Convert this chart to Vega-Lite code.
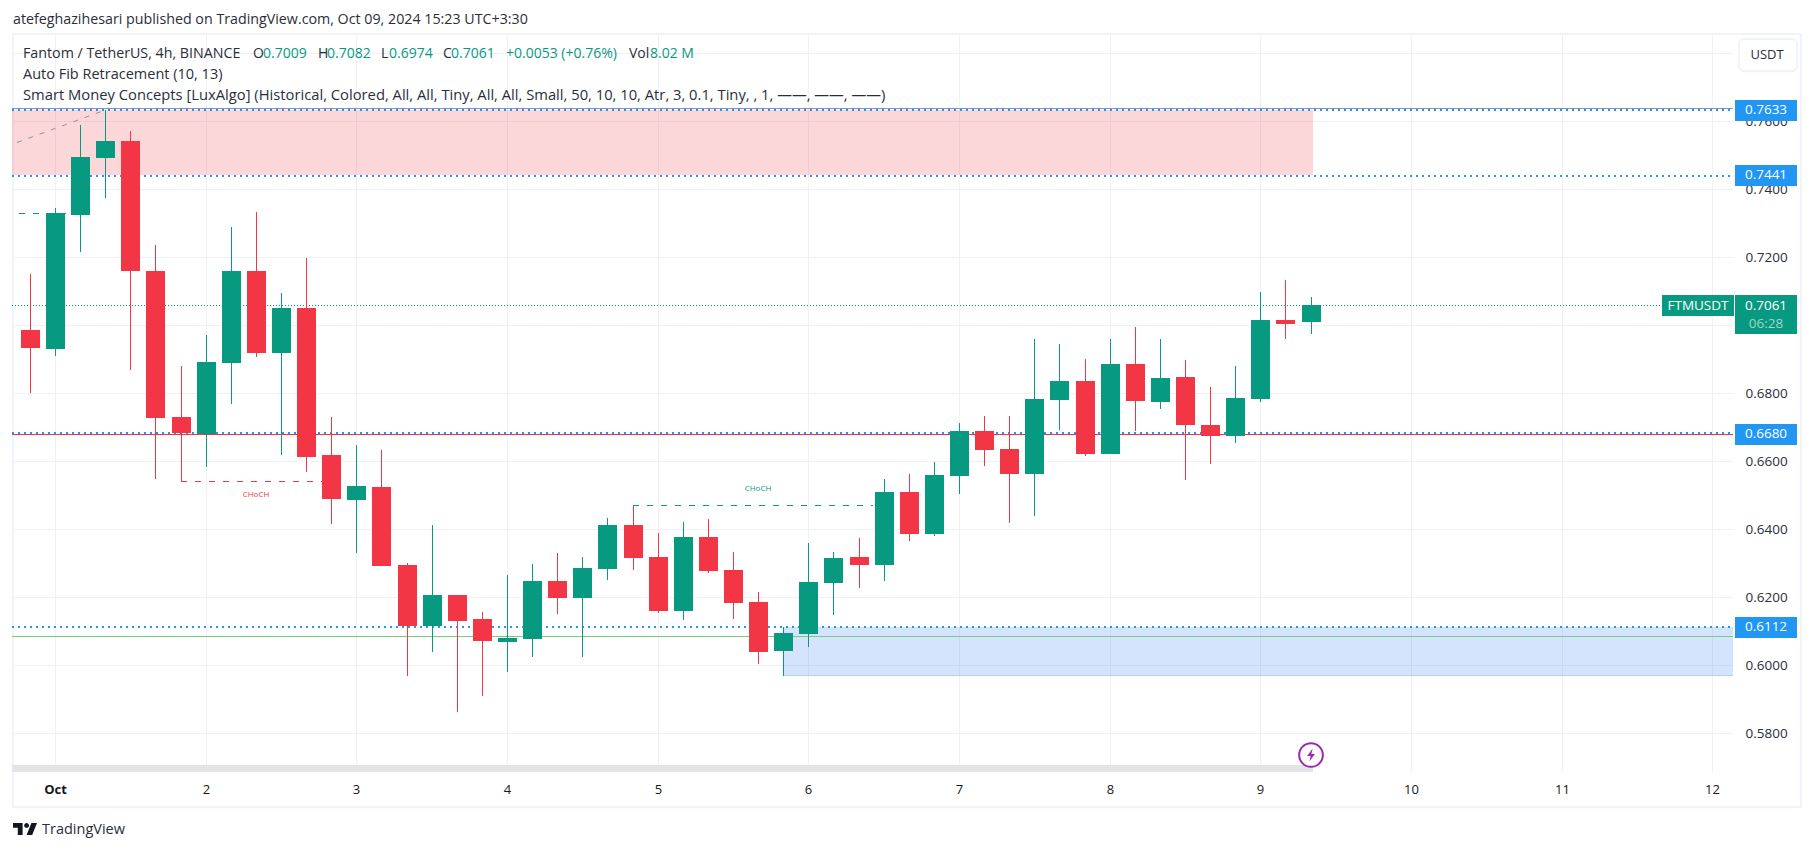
{
"$schema":"https://vega.github.io/schema/vega-lite/v6.json",
"width":1721,"height":738,
"autosize":{"type":"none"},
"padding":{"left":12,"top":34,"right":81,"bottom":79},
"background":"#ffffff",
"config":{"view":{"stroke":null},"font":"Open Sans","text":{"font":"Open Sans"}},
"resolve":{"scale":{"color":"independent"}},
"datasets":{
"candles":[
{"t":"2024-09-30T20:00Z","open":0.6986,"high":0.7151,"low":0.6801,"close":0.6934,"dir":"down"},
{"t":"2024-10-01T00:00Z","open":0.6930,"high":0.7344,"low":0.6910,"close":0.7329,"dir":"up"},
{"t":"2024-10-01T04:00Z","open":0.7324,"high":0.7589,"low":0.7216,"close":0.7495,"dir":"up"},
{"t":"2024-10-01T08:00Z","open":0.7492,"high":0.7633,"low":0.7375,"close":0.7542,"dir":"up"},
{"t":"2024-10-01T12:00Z","open":0.7542,"high":0.7571,"low":0.6869,"close":0.7160,"dir":"down"},
{"t":"2024-10-01T16:00Z","open":0.7160,"high":0.7236,"low":0.6548,"close":0.6727,"dir":"down"},
{"t":"2024-10-01T20:00Z","open":0.6730,"high":0.6880,"low":0.6541,"close":0.6683,"dir":"down"},
{"t":"2024-10-02T00:00Z","open":0.6680,"high":0.6971,"low":0.6583,"close":0.6892,"dir":"up"},
{"t":"2024-10-02T04:00Z","open":0.6889,"high":0.7289,"low":0.6769,"close":0.7160,"dir":"up"},
{"t":"2024-10-02T08:00Z","open":0.7160,"high":0.7333,"low":0.6907,"close":0.6919,"dir":"down"},
{"t":"2024-10-02T12:00Z","open":0.6919,"high":0.7095,"low":0.6619,"close":0.7051,"dir":"up"},
{"t":"2024-10-02T16:00Z","open":0.7051,"high":0.7198,"low":0.6569,"close":0.6613,"dir":"down"},
{"t":"2024-10-02T20:00Z","open":0.6619,"high":0.6730,"low":0.6416,"close":0.6489,"dir":"down"},
{"t":"2024-10-03T00:00Z","open":0.6486,"high":0.6648,"low":0.6330,"close":0.6527,"dir":"up"},
{"t":"2024-10-03T04:00Z","open":0.6524,"high":0.6633,"low":0.6292,"close":0.6292,"dir":"down"},
{"t":"2024-10-03T08:00Z","open":0.6295,"high":0.6301,"low":0.5969,"close":0.6116,"dir":"down"},
{"t":"2024-10-03T12:00Z","open":0.6116,"high":0.6413,"low":0.6039,"close":0.6207,"dir":"up"},
{"t":"2024-10-03T16:00Z","open":0.6207,"high":0.6207,"low":0.5863,"close":0.6130,"dir":"down"},
{"t":"2024-10-03T20:00Z","open":0.6136,"high":0.6157,"low":0.5910,"close":0.6071,"dir":"down"},
{"t":"2024-10-04T00:00Z","open":0.6069,"high":0.6266,"low":0.5980,"close":0.6080,"dir":"up"},
{"t":"2024-10-04T04:00Z","open":0.6077,"high":0.6298,"low":0.6024,"close":0.6248,"dir":"up"},
{"t":"2024-10-04T08:00Z","open":0.6248,"high":0.6330,"low":0.6151,"close":0.6198,"dir":"down"},
{"t":"2024-10-04T12:00Z","open":0.6198,"high":0.6319,"low":0.6024,"close":0.6286,"dir":"up"},
{"t":"2024-10-04T16:00Z","open":0.6283,"high":0.6433,"low":0.6251,"close":0.6413,"dir":"up"},
{"t":"2024-10-04T20:00Z","open":0.6413,"high":0.6471,"low":0.6280,"close":0.6316,"dir":"down"},
{"t":"2024-10-05T00:00Z","open":0.6319,"high":0.6389,"low":0.6154,"close":0.6160,"dir":"down"},
{"t":"2024-10-05T04:00Z","open":0.6160,"high":0.6421,"low":0.6133,"close":0.6377,"dir":"up"},
{"t":"2024-10-05T08:00Z","open":0.6377,"high":0.6430,"low":0.6271,"close":0.6277,"dir":"down"},
{"t":"2024-10-05T12:00Z","open":0.6280,"high":0.6333,"low":0.6136,"close":0.6183,"dir":"down"},
{"t":"2024-10-05T16:00Z","open":0.6186,"high":0.6216,"low":0.6004,"close":0.6039,"dir":"down"},
{"t":"2024-10-05T20:00Z","open":0.6042,"high":0.6113,"low":0.5969,"close":0.6095,"dir":"up"},
{"t":"2024-10-06T00:00Z","open":0.6092,"high":0.6360,"low":0.6054,"close":0.6245,"dir":"up"},
{"t":"2024-10-06T04:00Z","open":0.6242,"high":0.6333,"low":0.6148,"close":0.6316,"dir":"up"},
{"t":"2024-10-06T08:00Z","open":0.6319,"high":0.6374,"low":0.6227,"close":0.6295,"dir":"down"},
{"t":"2024-10-06T12:00Z","open":0.6295,"high":0.6548,"low":0.6248,"close":0.6510,"dir":"up"},
{"t":"2024-10-06T16:00Z","open":0.6510,"high":0.6563,"low":0.6366,"close":0.6386,"dir":"down"},
{"t":"2024-10-06T20:00Z","open":0.6386,"high":0.6598,"low":0.6380,"close":0.6560,"dir":"up"},
{"t":"2024-10-07T00:00Z","open":0.6557,"high":0.6713,"low":0.6504,"close":0.6689,"dir":"up"},
{"t":"2024-10-07T04:00Z","open":0.6689,"high":0.6733,"low":0.6586,"close":0.6633,"dir":"down"},
{"t":"2024-10-07T08:00Z","open":0.6636,"high":0.6733,"low":0.6419,"close":0.6563,"dir":"down"},
{"t":"2024-10-07T12:00Z","open":0.6563,"high":0.6960,"low":0.6439,"close":0.6783,"dir":"up"},
{"t":"2024-10-07T16:00Z","open":0.6780,"high":0.6945,"low":0.6692,"close":0.6836,"dir":"up"},
{"t":"2024-10-07T20:00Z","open":0.6836,"high":0.6901,"low":0.6616,"close":0.6621,"dir":"down"},
{"t":"2024-10-08T00:00Z","open":0.6621,"high":0.6960,"low":0.6621,"close":0.6886,"dir":"up"},
{"t":"2024-10-08T04:00Z","open":0.6886,"high":0.6995,"low":0.6689,"close":0.6777,"dir":"down"},
{"t":"2024-10-08T08:00Z","open":0.6774,"high":0.6960,"low":0.6754,"close":0.6845,"dir":"up"},
{"t":"2024-10-08T12:00Z","open":0.6848,"high":0.6898,"low":0.6545,"close":0.6707,"dir":"down"},
{"t":"2024-10-08T16:00Z","open":0.6707,"high":0.6819,"low":0.6592,"close":0.6674,"dir":"down"},
{"t":"2024-10-08T20:00Z","open":0.6674,"high":0.6880,"low":0.6654,"close":0.6786,"dir":"up"},
{"t":"2024-10-09T00:00Z","open":0.6783,"high":0.7098,"low":0.6774,"close":0.7016,"dir":"up"},
{"t":"2024-10-09T04:00Z","open":0.7016,"high":0.7133,"low":0.6960,"close":0.7004,"dir":"down"},
{"t":"2024-10-09T08:00Z","open":0.7009,"high":0.7082,"low":0.6974,"close":0.7061,"dir":"up"}
],
"zones":[
{"start":"2024-09-30T17:09Z","end":"2024-10-09T08:20Z","top":0.7633,"bottom":0.7441,"zone":"supply"},
{"start":"2024-10-05T20:00Z","end":"2024-10-12T03:18Z","top":0.6112,"bottom":0.5969,"zone":"demand"},
{"start":"2024-09-30T17:09Z","end":"2024-10-09T08:20Z","top":0.57068,"bottom":0.568618,"zone":"history"}
],
"levels":[
{"start":"2024-09-30T17:09Z","end":"2024-10-12T03:18Z","y0":0.7639,"y1":0.7639,"kind":"range"},
{"start":"2024-09-30T17:09Z","end":"2024-10-12T03:18Z","y0":0.76332,"y1":0.76332,"kind":"level"},
{"start":"2024-09-30T17:09Z","end":"2024-10-12T03:18Z","y0":0.74391,"y1":0.74391,"kind":"level"},
{"start":"2024-09-30T17:09Z","end":"2024-10-12T03:18Z","y0":0.66832,"y1":0.66832,"kind":"level"},
{"start":"2024-09-30T17:09Z","end":"2024-10-12T03:18Z","y0":0.61126,"y1":0.61126,"kind":"level"},
{"start":"2024-09-30T17:09Z","end":"2024-10-12T03:18Z","y0":0.6680,"y1":0.6680,"kind":"red"},
{"start":"2024-09-30T17:09Z","end":"2024-10-12T03:18Z","y0":0.6086,"y1":0.6086,"kind":"green"},
{"start":"2024-09-30T17:09Z","end":"2024-10-12T03:18Z","y0":0.7061,"y1":0.7061,"kind":"last"},
{"start":"2024-10-05T20:00Z","end":"2024-10-12T03:18Z","y0":0.59705,"y1":0.59705,"kind":"edge"},
{"start":"2024-09-30T17:53Z","end":"2024-10-01T07:45Z","y0":0.7540,"y1":0.7633,"kind":"swing"},
{"start":"2024-09-30T18:16Z","end":"2024-10-01T01:49Z","y0":0.7329,"y1":0.7329,"kind":"up"},
{"start":"2024-10-04T20:00Z","end":"2024-10-06T10:16Z","y0":0.6471,"y1":0.6471,"kind":"up"},
{"start":"2024-10-01T20:00Z","end":"2024-10-02T18:31Z","y0":0.6541,"y1":0.6541,"kind":"down"}
],
"header":[
{"t":"2024-09-30T18:57Z","price":0.77979,"label":"Fantom / TetherUS, 4h, BINANCE","tone":"dark","style":"title"},
{"t":"2024-10-02T07:37Z","price":0.77979,"label":"O","tone":"dark","style":"value"},
{"t":"2024-10-02T09:11Z","price":0.77979,"label":"0.7009","tone":"up","style":"value"},
{"t":"2024-10-02T17:49Z","price":0.77979,"label":"H","tone":"dark","style":"value"},
{"t":"2024-10-02T19:20Z","price":0.77979,"label":"0.7082","tone":"up","style":"value"},
{"t":"2024-10-03T03:56Z","price":0.77979,"label":"L","tone":"dark","style":"value"},
{"t":"2024-10-03T05:10Z","price":0.77979,"label":"0.6974","tone":"up","style":"value"},
{"t":"2024-10-03T13:44Z","price":0.77979,"label":"C","tone":"dark","style":"value"},
{"t":"2024-10-03T15:03Z","price":0.77979,"label":"0.7061","tone":"up","style":"value"},
{"t":"2024-10-03T23:48Z","price":0.77979,"label":"+0.0053 (+0.76%)","tone":"up","style":"value"},
{"t":"2024-10-04T19:30Z","price":0.77979,"label":"Vol","tone":"dark","style":"value"},
{"t":"2024-10-04T22:50Z","price":0.77979,"label":"8.02 M","tone":"up","style":"value"},
{"t":"2024-09-30T18:57Z","price":0.77362,"label":"Auto Fib Retracement (10, 13)","tone":"dark","style":"fib"},
{"t":"2024-09-30T18:57Z","price":0.76744,"label":"Smart Money Concepts [LuxAlgo] (Historical, Colored, All, All, Tiny, All, All, Small, 50, 10, 10, Atr, 3, 0.1, Tiny, , 1, ——, ——, ——)","tone":"dark","style":"long"},
{"t":"2024-09-30T17:19Z","price":0.78979,"label":"atefeghazihesari published on TradingView.com, Oct 09, 2024 15:23 UTC+3:30","tone":"dark","style":"title"}
],
"choch":[
{"t":"2024-10-02T08:01Z","price":0.65009,"label":"CHoCH","dir":"down"},
{"t":"2024-10-05T15:59Z","price":0.65185,"label":"CHoCH","dir":"up"}
],
"tags":[
{"t":"2024-10-12T08:34Z","price":0.7633,"label":"0.7633"},
{"t":"2024-10-12T08:34Z","price":0.7441,"label":"0.7441"},
{"t":"2024-10-12T08:34Z","price":0.6680,"label":"0.6680"},
{"t":"2024-10-12T08:34Z","price":0.6112,"label":"0.6112"}
]
},
"layer":[
{"data":{"values":[{"start":"2024-09-30T17:14Z","end":"2024-10-12T14:08Z","top":0.78582,"bottom":0.55847}],"format":{"parse":{"start":"date","end":"date"}}},
 "mark":{"type":"rect","fill":"transparent","stroke":"#f0f3fa","strokeWidth":2},
 "encoding":{
  "x":{"field":"start","type":"temporal","title":null,
    "scale":{"type":"utc","padding":0,"round":true,"domain":["2024-09-30T17:09:00Z","2024-10-12T03:18:00Z"]},
    "axis":{"orient":"bottom","title":null,"domain":false,"ticks":false,"grid":true,"gridColor":"#f0f1f5","gridWidth":1,
      "tickCount":{"interval":"day","step":1},"labelExpr":"utcdate(datum.value)==1?'Oct':''+utcdate(datum.value)",
      "labelFontWeight":{"condition":{"test":"utcdate(datum.value)==1","value":"bold"},"value":"normal"},
      "labelFont":"Open Sans","labelFontSize":13,"labelColor":"#131722","labelPadding":11,"labelOverlap":false,"labelFlush":false,"labelBound":false}},
  "x2":{"field":"end"},
  "y":{"field":"top","type":"quantitative","title":null,
    "scale":{"domain":[0.568618,0.785676],"nice":false,"zero":false,"round":true},
    "axis":{"orient":"right","title":null,"domain":false,"ticks":false,"grid":true,"gridColor":"#f0f1f5","gridWidth":1,
      "values":[0.58,0.6,0.62,0.64,0.66,0.68,0.7,0.72,0.74,0.76,0.78],
      "labelExpr":"datum.value>0.77?'':format(datum.value,'.4f')",
      "labelFont":"Open Sans","labelFontSize":13.5,"labelColor":"#2a2e39","labelPadding":12,"labelOverlap":false,"labelFlush":false,"labelBound":false}},
  "y2":{"field":"bottom"}
 }},
{"data":{"name":"zones","format":{"parse":{"start":"date","end":"date"}}},
 "mark":{"type":"rect"},
 "encoding":{
  "x":{"field":"start","type":"temporal","title":null},"x2":{"field":"end"},
  "y":{"field":"top","type":"quantitative","title":null},"y2":{"field":"bottom"},
  "color":{"field":"zone","type":"nominal","legend":null,"scale":{"domain":["supply","demand","history"],"range":["rgba(242,54,69,0.2)","rgba(41,118,245,0.2)","#e3e4e6"]}}
 }},
{"data":{"name":"levels","format":{"parse":{"start":"date","end":"date"}}},
 "transform":[{"filter":"datum.kind!='level'"}],
 "mark":{"type":"rule","strokeWidth":1,"yOffset":0.5,"y2Offset":0.5},
 "encoding":{
  "x":{"field":"start","type":"temporal","title":null},"x2":{"field":"end"},
  "y":{"field":"y0","type":"quantitative","title":null},"y2":{"field":"y1"},
  "color":{"field":"kind","type":"nominal","legend":null,"scale":{"domain":["range","red","green","last","edge","swing","up","down"],"range":["#8592b5","#f23645","#81c784","#089981","#b5cdf3","#8f8f96","#089981","#f23645"]}},
  "strokeDash":{"field":"kind","type":"nominal","legend":null,"scale":{"domain":["range","red","green","last","edge","swing","up","down"],"range":[[1,0],[1,0],[1,0],[1,2],[1,0],[5,7],[6,8],[6,8]]}}
 }},
{"data":{"name":"levels","format":{"parse":{"start":"date","end":"date"}}},
 "transform":[{"filter":"datum.kind=='level'"}],
 "mark":{"type":"rule","strokeWidth":2,"strokeDash":[2,4],"color":"#2196f3"},
 "encoding":{
  "x":{"field":"start","type":"temporal","title":null},"x2":{"field":"end"},
  "y":{"field":"y0","type":"quantitative","title":null},"y2":{"field":"y1"}
 }},
{"data":{"name":"candles"},
 "mark":{"type":"rule","strokeWidth":1,"xOffset":0.5},
 "encoding":{
  "x":{"field":"t","type":"temporal","title":null},
  "y":{"field":"low","type":"quantitative","title":null},"y2":{"field":"high"},
  "color":{"field":"dir","type":"nominal","legend":null,"scale":{"domain":["up","down"],"range":["#089981","#f23645"]}}
 }},
{"data":{"name":"candles"},
 "mark":{"type":"bar","size":19,"orient":"vertical","xOffset":0.5},
 "encoding":{
  "x":{"field":"t","type":"temporal","title":null},
  "y":{"field":"open","type":"quantitative","title":null},"y2":{"field":"close"},
  "color":{"field":"dir","type":"nominal","legend":null,"scale":{"domain":["up","down"],"range":["#089981","#f23645"]}}
 }},
{"data":{"name":"choch"},
 "mark":{"type":"text","fontSize":8,"align":"center","baseline":"middle"},
 "encoding":{
  "x":{"field":"t","type":"temporal","title":null},
  "y":{"field":"price","type":"quantitative","title":null},
  "text":{"field":"label"},
  "color":{"field":"dir","type":"nominal","legend":null,"scale":{"domain":["up","down"],"range":["#089981","#f23645"]}}
 }},
{"data":{"name":"header"},
 "mark":{"type":"text","align":"left","baseline":"middle"},
 "encoding":{
  "x":{"field":"t","type":"temporal","title":null},
  "y":{"field":"price","type":"quantitative","title":null},
  "text":{"field":"label"},
  "size":{"field":"style","type":"ordinal","legend":null,"scale":{"domain":["value","title","fib","long"],"range":[14,14.75,15.3,15.6]}},
  "color":{"field":"tone","type":"nominal","legend":null,"scale":{"domain":["dark","up"],"range":["#2a2e39","#089981"]}}
 }},
{"data":{"values":[{"start":"2024-10-12T04:16Z","end":"2024-10-12T13:30Z","top":0.78421,"bottom":0.77479}],"format":{"parse":{"start":"date","end":"date"}}},
 "mark":{"type":"rect","fill":"#ffffff","stroke":"#f0f3fa","strokeWidth":2,"cornerRadius":5},
 "encoding":{
  "x":{"field":"start","type":"temporal","title":null},"x2":{"field":"end"},
  "y":{"field":"top","type":"quantitative","title":null},"y2":{"field":"bottom"}
 }},
{"data":{"values":[{"t":"2024-10-12T08:43Z","price":0.7795,"label":"USDT"}]},
 "mark":{"type":"text","fontSize":13,"align":"center","baseline":"middle","color":"#2a2e39"},
 "encoding":{
  "x":{"field":"t","type":"temporal","title":null},
  "y":{"field":"price","type":"quantitative","title":null},
  "text":{"field":"label"}
 }},
{"data":{"name":"tags"},
 "mark":{"type":"tick","orient":"horizontal","size":62,"thickness":21,"color":"#2196f3","opacity":1,"yOffset":0.5},
 "encoding":{
  "x":{"field":"t","type":"temporal","title":null},
  "y":{"field":"price","type":"quantitative","title":null}
 }},
{"data":{"values":[{"t":"2024-10-12T08:34Z","price":0.70318}]},
 "mark":{"type":"tick","orient":"horizontal","size":62,"thickness":39,"color":"#089981","opacity":1,"yOffset":0.5},
 "encoding":{
  "x":{"field":"t","type":"temporal","title":null},
  "y":{"field":"price","type":"quantitative","title":null}
 }},
{"data":{"values":[{"t":"2024-10-11T21:44Z","price":0.7061}]},
 "mark":{"type":"tick","orient":"horizontal","size":72,"thickness":21,"color":"#089981","opacity":1,"yOffset":0.5},
 "encoding":{
  "x":{"field":"t","type":"temporal","title":null},
  "y":{"field":"price","type":"quantitative","title":null}
 }},
{"data":{"name":"tags"},
 "mark":{"type":"text","fontSize":13.5,"align":"center","baseline":"middle","color":"#ffffff"},
 "encoding":{
  "x":{"field":"t","type":"temporal","title":null},
  "y":{"field":"price","type":"quantitative","title":null},
  "text":{"field":"label"}
 }},
{"data":{"values":[{"t":"2024-10-12T08:34Z","price":0.7058,"label":"0.7061"},{"t":"2024-10-11T21:44Z","price":0.7058,"label":"FTMUSDT"}]},
 "mark":{"type":"text","fontSize":13.5,"align":"center","baseline":"middle","color":"#ffffff"},
 "encoding":{
  "x":{"field":"t","type":"temporal","title":null},
  "y":{"field":"price","type":"quantitative","title":null},
  "text":{"field":"label"}
 }},
{"data":{"values":[{"t":"2024-10-12T08:34Z","price":0.70038,"label":"06:28"}]},
 "mark":{"type":"text","fontSize":13.5,"align":"center","baseline":"middle","color":"#9dd6cb"},
 "encoding":{
  "x":{"field":"t","type":"temporal","title":null},
  "y":{"field":"price","type":"quantitative","title":null},
  "text":{"field":"label"}
 }},
{"data":{"values":[{"t":"2024-10-09T08:00Z","price":0.5736}]},
 "mark":{"type":"point","shape":"circle","filled":true,"fill":"#ffffff","stroke":"#9c27b0","strokeWidth":2,"size":560,"opacity":1},
 "encoding":{
  "x":{"field":"t","type":"temporal","title":null},
  "y":{"field":"price","type":"quantitative","title":null}
 }},
{"data":{"values":[{"t":"2024-10-09T08:00Z","price":0.5736}]},
 "mark":{"type":"point","shape":"M0.25 -1 L-0.6 0.15 L-0.05 0.15 L-0.25 1 L0.6 -0.15 L0.05 -0.15 Z","filled":true,"color":"#9c27b0","size":169,"opacity":1},
 "encoding":{
  "x":{"field":"t","type":"temporal","title":null},
  "y":{"field":"price","type":"quantitative","title":null}
 }},
{"data":{"values":[{"t":"2024-09-30T19:13Z","price":0.55185}]},
 "mark":{"type":"point","shape":"M-0.2 -0.5 L-1 -0.5 L-1 -0.1 L-0.6 -0.1 L-0.6 0.5 L-0.2 0.5 Z M0.6 0.5 L0.1333 0.5 L0.5333 -0.5 L1 -0.5 Z M0.1333 -0.1 A0.2 0.2 0 1 0 0.1333 -0.5 A0.2 0.2 0 0 0 0.1333 -0.1 Z","filled":true,"color":"#131722","size":576,"opacity":1},
 "encoding":{
  "x":{"field":"t","type":"temporal","title":null},
  "y":{"field":"price","type":"quantitative","title":null}
 }},
{"data":{"values":[{"t":"2024-09-30T21:56Z","price":0.55156,"label":"TradingView"}]},
 "mark":{"type":"text","fontSize":14.5,"align":"left","baseline":"middle","color":"#2a2e39"},
 "encoding":{
  "x":{"field":"t","type":"temporal","title":null},
  "y":{"field":"price","type":"quantitative","title":null},
  "text":{"field":"label"}
 }}
]
}
